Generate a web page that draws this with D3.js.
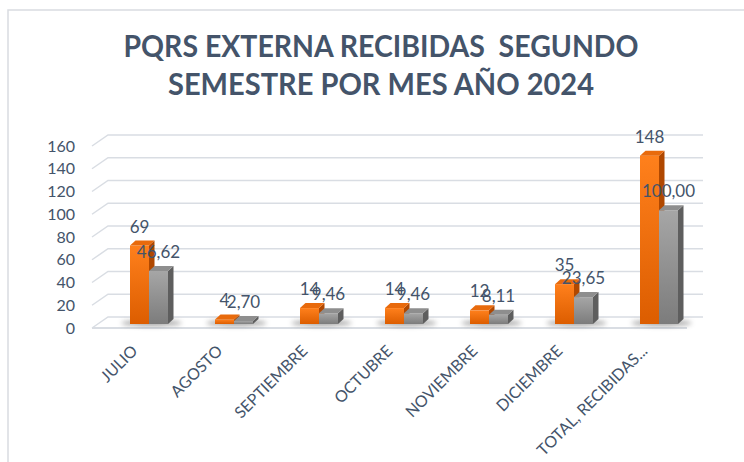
<!DOCTYPE html>
<html lang="es">
<meta charset="utf-8">
<head>
    <script src="https://d3js.org/d3.v7.min.js"></script>
    <style>
        body { margin: 0; background: #fff; }
        text { font-family: Lato, "Liberation Sans", sans-serif; }
    </style>
</head>
<body>
<script>

// data
const categories = ["JULIO", "AGOSTO", "SEPTIEMBRE", "OCTUBRE", "NOVIEMBRE", "DICIEMBRE", "TOTAL, RECIBIDAS..."];
const cantidad = [69, 4, 14, 14, 12, 35, 148];
const porcentaje = [46.62, 2.70, 9.46, 9.46, 8.11, 23.65, 100.00];
const yTicks = [0, 20, 40, 60, 80, 100, 120, 140, 160];
const titleLines = ["PQRS EXTERNA RECIBIDAS  SEGUNDO", "SEMESTRE POR MES AÑO 2024"];

const width = 744, height = 462;
const textColor = "#44546A";
const gridColor = "#D9DDE3";

// 3d offsets of the walls and of the columns
const wallDx = 16, wallDy = -11;
const barW = 19, barDx = 5.5, barDy = -5;

const svg = d3.select("body")
    .append("svg")
    .attr("width", width)
    .attr("height", height);

// chart area border (only top and left are inside the picture)
svg.append("path")
    .attr("d", `M8,${height} V10 H${width}`)
    .attr("fill", "none")
    .attr("stroke", "#D9DCE1")
    .attr("stroke-width", 1.5);

// title
svg.append("g").selectAll("text")
    .data(titleLines)
    .join("text")
    .attr("x", 381)
    .attr("y", (d, i) => 57 + i * 38)
    .attr("text-anchor", "middle")
    .attr("font-weight", "bold")
    .attr("font-size", 30)
    .attr("fill", textColor)
    .attr("textLength", (d, i) => i == 0 ? 515 : 426)
    .attr("lengthAdjust", "spacingAndGlyphs")
    .style("white-space", "pre")
    .text(d => d);

// scales
const x = d3.scaleBand()
    .domain(categories)
    .range([92, 687]);

const y = d3.scaleLinear()
    .domain([0, 160])
    .range([328, 146]);

// columns stand a bit behind the front edge
const yBar = d3.scaleLinear()
    .domain([0, 160])
    .range([324, 142]);

// gridlines: front-left diagonal + back wall line
const grid = svg.append("g")
    .attr("fill", "none")
    .attr("stroke", gridColor)
    .attr("stroke-width", 1.5);

grid.selectAll("path")
    .data(yTicks)
    .join("path")
    .attr("d", d => `M${x.range()[0]},${y(d)} L${x.range()[0] + wallDx},${y(d) + wallDy} H${x.range()[1] + wallDx}`);

// front edge of the floor
grid.append("line")
    .attr("x1", x.range()[0])
    .attr("x2", x.range()[1])
    .attr("y1", y(0))
    .attr("y2", y(0))
    .attr("stroke-width", 2);

// y axis labels
svg.append("g").selectAll("text")
    .data(yTicks)
    .join("text")
    .attr("x", 75)
    .attr("y", d => y(d))
    .attr("dy", "0.35em")
    .attr("text-anchor", "end")
    .attr("font-size", 16)
    .attr("fill", textColor)
    .text(d => d);

// gradients
const defs = svg.append("defs");
function vGrad(id, top, bottom) {
    const g = defs.append("linearGradient")
        .attr("id", id)
        .attr("x1", 0).attr("y1", 0).attr("x2", 0).attr("y2", 1);
    g.append("stop").attr("offset", "0%").attr("stop-color", top);
    g.append("stop").attr("offset", "100%").attr("stop-color", bottom);
}
vGrad("orangeFront", "#FF801C", "#DC5D00");
vGrad("grayFront", "#A6A6A6", "#7C7C7C");

defs.append("filter")
    .attr("id", "blur")
    .attr("x", "-50%").attr("y", "-200%").attr("width", "200%").attr("height", "500%")
    .append("feGaussianBlur")
    .attr("stdDeviation", 2.5);

const seriesStyle = [
    {values: cantidad, front: "url(#orangeFront)", side: "#B04800", top: "#E86A0C", fmt: d => d},
    {values: porcentaje, front: "url(#grayFront)", side: "#5E5E5E", top: "#8E8E8E", fmt: d => d.toFixed(2).replace(".", ",")}
];

// shadows under each pair of columns
svg.append("g").selectAll("ellipse")
    .data(categories)
    .join("ellipse")
    .attr("cx", d => x(d) + x.bandwidth() / 2 + 17)
    .attr("cy", yBar(0) - 1)
    .attr("rx", 30)
    .attr("ry", 3)
    .attr("fill", "#555")
    .attr("opacity", 0.55)
    .attr("filter", "url(#blur)");

// columns
const bars = svg.append("g");
function barX(c, s) {
    return x(c) + x.bandwidth() / 2 + 14.5 - barW + s * barW;
}

categories.forEach(function(c, i) {
    seriesStyle.forEach(function(st, s) {
        const x0 = barX(c, s);
        const yt = yBar(st.values[i]);
        const yb = yBar(0);
        const g = bars.append("g");
        g.append("rect")
            .attr("x", x0)
            .attr("y", yt)
            .attr("width", barW)
            .attr("height", yb - yt)
            .attr("fill", st.front);
        g.append("path")
            .attr("d", `M${x0 + barW},${yt} l${barDx},${barDy} V${yb + barDy} L${x0 + barW},${yb} Z`)
            .attr("fill", st.side);
        g.append("path")
            .attr("d", `M${x0},${yt} l${barDx},${barDy} h${barW} L${x0 + barW},${yt} Z`)
            .attr("fill", st.top);
    });
});

// data labels
const labels = svg.append("g")
    .attr("font-size", 17)
    .attr("fill", textColor)
    .attr("text-anchor", "middle");

categories.forEach(function(c, i) {
    seriesStyle.forEach(function(st, s) {
        labels.append("text")
            .attr("x", barX(c, s) + barW / 2)
            .attr("y", yBar(st.values[i]) - 13)
            .text(st.fmt(st.values[i]));
    });
});

// category labels, rotated
svg.append("g").selectAll("text")
    .data(categories)
    .join("text")
    .attr("transform", d => `translate(${x(d) + x.bandwidth() / 2 + 4}, 352) rotate(-45)`)
    .attr("text-anchor", "end")
    .attr("font-size", 16)
    .attr("fill", textColor)
    .text(d => d);

</script>
</body>
</html>
